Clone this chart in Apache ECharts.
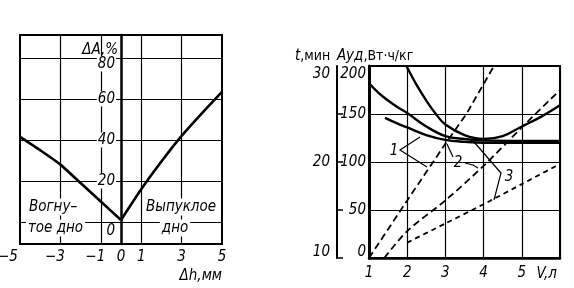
<!DOCTYPE html>
<html><head><meta charset="utf-8">
<script src="https://cdn.jsdelivr.net/npm/echarts@6/dist/echarts.min.js"></script>
<style>html,body{margin:0;padding:0;background:#fff}#c{width:574px;height:288px}</style>
</head><body><div id="c"></div>
<script>
// ---------- Left chart: ΔA (%) vs Δh (mm) ----------
const concaveDh = [-5, -4, -3, -2, -1, 0];
const concaveDA = [41.5, 35, 28, 19, 10, 1];
const convexDh  = [0, 1, 2, 3, 4, 5];
const convexDA  = [1, 16, 29.5, 42, 53, 63.5];
const leftXTicks = [-5, -3, -1, 0, 1, 3, 5];
const leftXGrid  = [-3, -1, 1, 3];
const leftYTicks = [0, 20, 40, 60, 80];

// ---------- Right chart: A_уд and t vs V (л) ----------
const rightXTicks = [1, 2, 3, 4, 5];
const solid1V = [1.42, 1.75, 2, 2.5, 3, 3.5, 4, 5, 6];
const solid1A = [146, 140, 136, 128, 123, 121, 120, 120, 120];
const solid2V = [1, 1.25, 1.5, 1.75, 2, 2.5, 3, 3.5, 4, 5, 6];
const solid2A = [182, 172, 164, 157, 151, 137, 127, 124, 122.5, 122, 122];
const solid3V = [1.98, 2.25, 2.5, 2.75, 3, 3.5, 4, 4.5, 5, 5.5, 6];
const solid3A = [200, 180, 164, 150, 139, 128, 124, 127, 137, 147, 159];
const dash1V = [1, 2, 3, 3.55, 4.27];
const dash1A = [0, 60, 119, 150, 200];
const dash2V = [1.4, 2, 3, 4, 5, 6];
const dash2A = [0, 28, 60, 96, 136, 175];
const dash3V = [2, 3, 4, 5, 6];
const dash3A = [16, 36, 56, 77, 98];
const aTicks = [0, 50, 100, 150, 200];
const tTicks = [10, 20, 30];

const FONT = "'DejaVu Sans Condensed','Liberation Sans Narrow','DejaVu Sans',sans-serif";
const base = {fontFamily: FONT, fontStyle: 'italic', fontSize: 15, color: '#000'};
const pair = (xs, ys) => xs.map((x, i) => [x, ys[i]]);

const chart = echarts.init(document.getElementById('c'));

const leftYRich = {
  n: Object.assign({}, base, {backgroundColor: '#fff', padding: [0, 1, 0, 1], lineHeight: 16}),
  g18: {lineHeight: 18, fontSize: 10},
  g12: {lineHeight: 12, fontSize: 10}
};
const rightYRich = {
  n: Object.assign({}, base, {lineHeight: 16}),
  top: {lineHeight: 16, fontSize: 10},
  bot: {lineHeight: 11, fontSize: 10}
};
function edgeLabel(v, minV, maxV) {
  if (v === maxV) return '{top| }\n{n|' + v + '}';
  if (v === minV) return '{n|' + v + '}\n{bot| }';
  return '{n|' + v + '}';
}

const solidStyle = {color: '#000', width: 2.4};
function solid(xs, ys) {
  return {type: 'line', xAxisIndex: 1, yAxisIndex: 1, data: pair(xs, ys), showSymbol: false,
    smooth: 0.4, lineStyle: solidStyle, z: 3};
}
function dashed(xs, ys, dash, sm) {
  return {type: 'line', xAxisIndex: 1, yAxisIndex: 1, data: pair(xs, ys), showSymbol: false,
    smooth: sm, lineStyle: {color: '#000', width: 1.8, type: dash}, z: 3};
}

const txt = (x, y, text, align, extra) => ({
  type: 'text', x: x, y: y, z: 100,
  style: Object.assign({text: text, align: align, verticalAlign: 'middle',
    font: 'italic 15px ' + FONT, fill: '#000'}, extra || {})
});
const poly = (pts) => ({type: 'polyline', z: 100, shape: {points: pts},
  style: {stroke: '#000', lineWidth: 1.2, fill: null}});

const option = {
  animation: false,
  backgroundColor: '#fff',
  grid: [
    {left: 20, top: 35, width: 202, height: 209, show: true, borderColor: '#000', borderWidth: 2, outerBoundsMode: 'none'},
    {left: 369, top: 66, width: 191, height: 192, show: true, borderColor: '#000', borderWidth: 2, outerBoundsMode: 'none'}
  ],
  xAxis: [
    {gridIndex: 0, type: 'value', min: -5, max: 5,
      axisLine: {show: true, onZero: false, lineStyle: {color: '#000', width: 2}},
      axisTick: {show: false}, splitLine: {show: false},
      axisLabel: {customValues: leftXTicks, margin: 6,
        formatter: v => v < 0 ? (v === -5 ? '{w|−5}' : '{m|−' + Math.abs(v) + '}') : '{n|' + v + '}',
        rich: {
          n: Object.assign({}, base),
          m: Object.assign({}, base, {padding: [0, 11, 0, 0]}),
          w: Object.assign({}, base, {padding: [0, 24, 0, 0]})
        }}},
    {gridIndex: 1, type: 'value', min: 1, max: 6, interval: 1,
      axisLine: {show: true, onZero: false, lineStyle: {color: '#000', width: 2.5}},
      axisTick: {show: false},
      splitLine: {show: true, lineStyle: {color: '#000', width: 1.2}},
      axisLabel: Object.assign({}, base, {customValues: rightXTicks, margin: 8})}
  ],
  yAxis: [
    {gridIndex: 0, type: 'value', min: -10.7, max: 91.2, z: 5, position: 'left', offset: -101,
      axisLine: {show: true, onZero: false, lineStyle: {color: '#000', width: 2.5}},
      axisTick: {show: false}, splitLine: {show: false},
      axisLabel: {customValues: leftYTicks, margin: 5,
        formatter: v => v === 0 ? '{g18| }\n{n|0}' : (v === 80 ? '{g12| }\n{n|80}' : '{n|' + v + '}'),
        rich: leftYRich}},
    {gridIndex: 1, type: 'value', min: 0, max: 200, interval: 50, z: 5,
      axisLine: {show: true, onZero: false, lineStyle: {color: '#000', width: 3}},
      axisTick: {show: false},
      splitLine: {show: true, lineStyle: {color: '#000', width: 1.2}},
      axisLabel: {customValues: aTicks, margin: 3, formatter: v => edgeLabel(v, 0, 200), rich: rightYRich}},
    {gridIndex: 1, type: 'value', position: 'left', offset: 32, min: 10, max: 30, interval: 5,
      axisLine: {show: true, onZero: false, lineStyle: {color: '#000', width: 2}},
      axisTick: {show: true, inside: true, length: 6, customValues: [10, 15, 20, 25], lineStyle: {color: '#000', width: 1.5}},
      splitLine: {show: false},
      axisLabel: {customValues: tTicks, margin: 7, formatter: v => edgeLabel(v, 10, 30), rich: rightYRich}}
  ],
  series: [
    {type: 'line', xAxisIndex: 0, yAxisIndex: 0, data: pair(concaveDh, concaveDA), showSymbol: false,
      smooth: 0.2, lineStyle: {color: '#000', width: 2.6}, z: 3,
      markLine: {silent: true, symbol: 'none', label: {show: false},
        lineStyle: {color: '#000', width: 1.2, type: 'solid'},
        data: leftXGrid.map(v => ({xAxis: v})).concat(leftYTicks.map(v => ({yAxis: v})))}},
    {type: 'line', xAxisIndex: 0, yAxisIndex: 0, data: pair(convexDh, convexDA), showSymbol: false,
      smooth: 0.2, lineStyle: {color: '#000', width: 2.6}, z: 3},
    solid(solid1V, solid1A),
    solid(solid2V, solid2A),
    solid(solid3V, solid3A),
    dashed(dash1V, dash1A, [7, 4], false),
    dashed(dash2V, dash2A, [7, 4], 0.3),
    dashed(dash3V, dash3A, [5, 4], 0.2)
  ],
  graphic: [
    txt(118, 50, 'ΔA,%', 'right'),
    txt(222, 276, 'Δh,мм', 'right'),
    txt(27, 207, 'Вогну–', 'left', {backgroundColor: '#fff', padding: [1, 2]}),
    txt(26, 228, 'тое дно', 'left', {backgroundColor: '#fff', padding: [1, 2]}),
    txt(181, 207, 'Выпуклое', 'center', {backgroundColor: '#fff', padding: [1, 2]}),
    txt(175, 228, 'дно', 'center', {backgroundColor: '#fff', padding: [1, 2]}),
    {type: 'text', x: 295, y: 56, z: 100, style: {
      text: '{i|t}{u|,мин}  {i|Aуд}{u|,Вт·ч/кг}', verticalAlign: 'middle', align: 'left',
      rich: {i: Object.assign({}, base), u: {fontFamily: FONT, fontSize: 14, fill: '#000'}}}},
    txt(557, 274, 'V,л', 'right'),
    txt(394, 151, '1', 'center'),
    txt(458, 163, '2', 'center'),
    txt(509, 177, '3', 'center'),
    poly([[420, 137], [400, 150], [427, 167]]),
    poly([[447, 144], [453, 157]]),
    poly([[465, 163], [473, 165], [478, 168]]),
    poly([[474, 142], [501, 173], [494, 200]])
  ]
};
chart.setOption(option);
</script></body></html>
